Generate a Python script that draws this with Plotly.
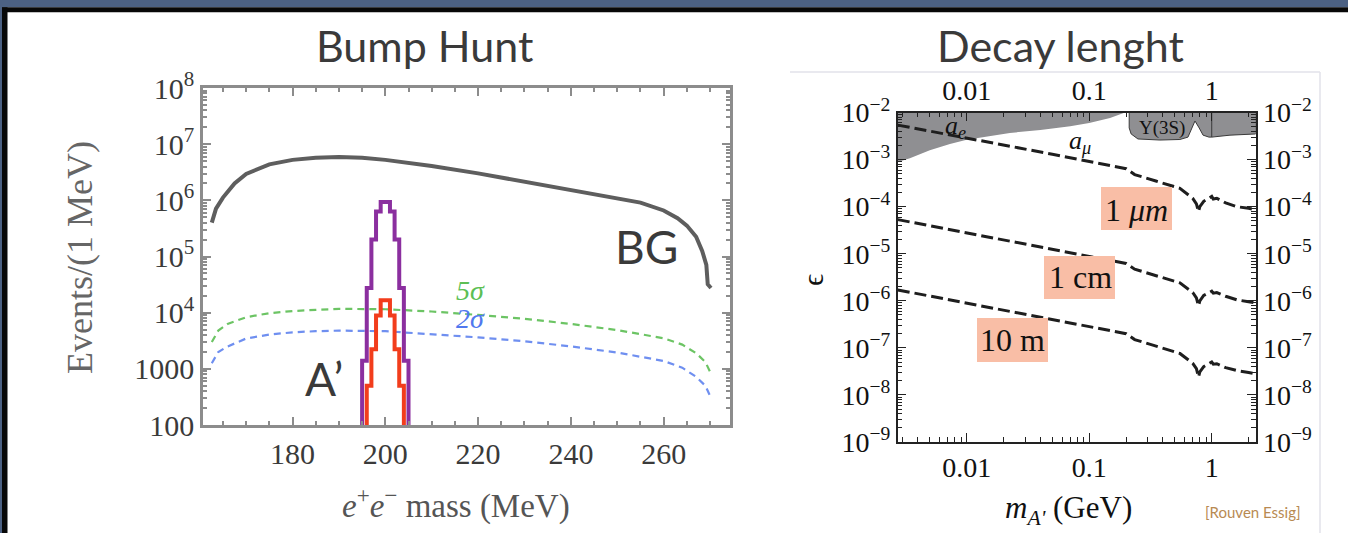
import plotly.graph_objects as go

W, H = 1348, 533
def px(x): return x / W
def py(y): return 1 - y / H

# ---------------- data: left chart (Bump Hunt) ----------------
bg_mass = [162.6, 163.5, 165, 167.5, 170, 175, 180, 185, 190, 195, 200, 210, 220, 230, 240,
           250, 255, 260, 263, 265, 267, 268.3, 269.2, 269.5, 270.2]
bg_events = [4.0e5, 7.1e5, 1.12e6, 2.0e6, 2.95e6, 4.37e6, 5.25e6, 5.75e6, 5.9e6, 5.75e6, 5.25e6,
             4.07e6, 3.02e6, 2.14e6, 1.55e6, 1.1e6, 9.1e5, 6.6e5, 4.8e5, 3.55e5, 2.24e5, 1.26e5,
             7.1e4, 3.2e4, 2.75e4]

sig_mass = [162.6, 164, 166, 170, 175, 180, 185, 190, 200, 210, 220, 230, 240, 250, 260, 264, 267, 269, 270]
five_sigma = [3000, 4800, 6300, 8300, 9800, 10700, 11200, 11700, 11500, 10500, 9100, 7800, 6300,
              4900, 3500, 2700, 1900, 1320, 890]
two_sigma = [1260, 2000, 2500, 3470, 4070, 4470, 4680, 4790, 4680, 4170, 3630, 3090, 2510,
             1950, 1380, 1050, 720, 500, 330]

purple_edges = [195, 196, 197, 198, 199, 200, 201, 202, 203, 204, 205]
purple_counts = [1400, 2.75e4, 2.0e5, 6.3e5, 9.3e5, 9.3e5, 6.3e5, 2.0e5, 2.75e4, 1400]
red_edges = [196, 197, 198, 199, 200, 201, 202, 203, 204]
red_counts = [500, 2240, 8900, 1.66e4, 1.66e4, 8900, 2240, 500]

left_xticks = [180, 200, 220, 240, 260]
left_yticks = [1e2, 1e3, 1e4, 1e5, 1e6, 1e7, 1e8]
left_ytext = ["100", "1000", "10<sup>4</sup>", "10<sup>5</sup>", "10<sup>6</sup>",
              "10<sup>7</sup>", "10<sup>8</sup>"]

# ---------------- data: right chart (Decay length) ----------------
m_line = [0.00274, 0.01, 0.05, 0.2, 0.235, 0.35, 0.55, 0.70, 0.75, 0.78, 0.80, 0.86, 0.95,
          1.0, 1.03, 1.1, 1.3, 1.6, 2.0, 2.3]
eps_1um = [5.4e-3, 2.9e-3, 1.3e-3, 6.4e-4, 4.8e-4, 3.5e-4, 2.45e-4, 1.5e-4, 1.15e-4, 7.8e-5,
           1.0e-4, 1.3e-4, 1.5e-4, 1.65e-4, 1.45e-4, 1.5e-4, 1.2e-4, 1.0e-4, 9.2e-5, 8.6e-5]
eps_1cm = [5.3e-5, 2.8e-5, 1.25e-5, 6.2e-6, 4.7e-6, 3.4e-6, 2.4e-6, 1.5e-6, 1.15e-6, 7.8e-7,
           1.0e-6, 1.3e-6, 1.5e-6, 1.6e-6, 1.45e-6, 1.5e-6, 1.25e-6, 1.05e-6, 9.5e-7, 9.0e-7]
eps_10m = [1.7e-6, 9.0e-7, 4.0e-7, 2.0e-7, 1.5e-7, 1.08e-7, 7.6e-8, 4.7e-8, 3.6e-8, 2.4e-8,
           3.1e-8, 4.0e-8, 4.6e-8, 5.0e-8, 4.5e-8, 4.6e-8, 3.8e-8, 3.3e-8, 3.0e-8, 2.8e-8]

amu_m = [0.00274, 0.00344, 0.005, 0.0073, 0.01, 0.0155, 0.0225, 0.04, 0.07, 0.1, 0.148, 0.196, 0.00274]
amu_eps = [8.9e-4, 1.07e-3, 1.58e-3, 2.14e-3, 2.63e-3, 3.16e-3, 3.67e-3, 4.27e-3, 5.1e-3, 6.0e-3,
           7.6e-3, 1e-2, 1e-2]

ups_m = [0.212, 0.212, 0.22, 0.25, 0.378, 0.55, 0.64, 0.69, 0.73, 0.79, 0.85, 0.95, 1.0, 1.41, 2.29, 2.29, 0.212]
ups_eps = [1e-2, 4.7e-3, 3.5e-3, 2.74e-3, 2.6e-3, 2.67e-3, 3.0e-3, 4.7e-3, 6.6e-3, 4.7e-3, 3.3e-3,
           3.0e-3, 3.0e-3, 3.3e-3, 3.5e-3, 1e-2, 1e-2]

right_xticks = [0.01, 0.1, 1]
right_xtext = ["0.01", "0.1", "1"]
right_yticks = [1e-9, 1e-8, 1e-7, 1e-6, 1e-5, 1e-4, 1e-3, 1e-2]
right_ytext = ["10<sup>−9</sup>", "10<sup>−8</sup>", "10<sup>−7</sup>", "10<sup>−6</sup>",
               "10<sup>−5</sup>", "10<sup>−4</sup>", "10<sup>−3</sup>", "10<sup>−2</sup>"]

SERIF = "Liberation Serif"
SANS = "Lato"

fig = go.Figure()

# left chart traces
fig.add_trace(go.Scatter(x=sig_mass, y=five_sigma, mode="lines", xaxis="x", yaxis="y",
                         line=dict(color="#6cc464", width=2.2, dash="7px,5px"), hoverinfo="skip"))
fig.add_trace(go.Scatter(x=sig_mass, y=two_sigma, mode="lines", xaxis="x", yaxis="y",
                         line=dict(color="#6f8ff0", width=2.2, dash="7px,5px"), hoverinfo="skip"))
fig.add_trace(go.Scatter(x=bg_mass, y=bg_events, mode="lines", xaxis="x", yaxis="y",
                         line=dict(color="#5e5e5e", width=4), hoverinfo="skip"))

def hist_outline(edges, counts, low=10):
    xs = [edges[0]] + list(edges[:-1]) + [edges[-1]]
    ys = [low] + list(counts) + [low]
    return xs, ys

hx, hy = hist_outline(purple_edges, purple_counts)
fig.add_trace(go.Scatter(x=hx, y=hy, mode="lines", line_shape="hv", xaxis="x", yaxis="y",
                         line=dict(color="#8b2f9f", width=4), hoverinfo="skip"))
hx, hy = hist_outline(red_edges, red_counts)
fig.add_trace(go.Scatter(x=hx, y=hy, mode="lines", line_shape="hv", xaxis="x", yaxis="y",
                         line=dict(color="#f23d1c", width=4), hoverinfo="skip"))

# right chart traces
fig.add_trace(go.Scatter(x=amu_m, y=amu_eps, mode="lines", fill="toself", xaxis="x2", yaxis="y2",
                         fillcolor="#8f8f92", line=dict(width=0, color="#8f8f92"), hoverinfo="skip"))
fig.add_trace(go.Scatter(x=ups_m, y=ups_eps, mode="lines", fill="toself", xaxis="x2", yaxis="y2",
                         fillcolor="#8f8f92", line=dict(width=1, color="#3a3a3a"), hoverinfo="skip"))
fig.add_trace(go.Scatter(x=[1.0, 1.0], y=[3.0e-3, 1e-2], mode="lines", xaxis="x2", yaxis="y2",
                         line=dict(width=1, color="#3a3a3a"), hoverinfo="skip"))
for ev in (eps_1um, eps_1cm, eps_10m):
    fig.add_trace(go.Scatter(x=m_line, y=ev, mode="lines", xaxis="x2", yaxis="y2",
                             line=dict(color="#1e1e1e", width=3, dash="12px,5px"), hoverinfo="skip"))
fig.add_trace(go.Scatter(x=[0.01], y=[1e-5], mode="markers", xaxis="x3", yaxis="y3",
                         marker=dict(opacity=0), hoverinfo="skip"))

left_axis_common = dict(showline=True, linecolor="#8c8c8c", linewidth=2.5, mirror="ticks",
                        ticks="inside", tickcolor="#8c8c8c", tickwidth=1.5, showgrid=False,
                        zeroline=False, automargin=False)
right_axis_common = dict(showline=True, linecolor="#222", linewidth=1.5,
                         ticks="inside", tickcolor="#222", tickwidth=1.2, showgrid=False,
                         zeroline=False, type="log", automargin=False)

fig.update_layout(
    width=W, height=H, margin=dict(l=0, r=0, t=0, b=0, autoexpand=False),
    paper_bgcolor="white", plot_bgcolor="rgba(0,0,0,0)", showlegend=False,
    xaxis=dict(domain=[px(203), px(730)], range=[160.7, 274.3], anchor="y",
               tickvals=left_xticks, ticklen=8,
               tickfont=dict(family=SERIF, size=30, color="#3a3a3a"),
               minor=dict(ticks="inside", ticklen=4, dtick=5, tick0=180, tickcolor="#8c8c8c"),
               **left_axis_common),
    yaxis=dict(domain=[py(425), py(88)], type="log", range=[2, 8], anchor="x",
               tickvals=left_yticks, ticktext=left_ytext, ticklen=8,
               tickfont=dict(family=SERIF, size=30, color="#3a3a3a"),
               minor=dict(ticks="inside", ticklen=4, dtick="D1", tickcolor="#8c8c8c"),
               **left_axis_common),
    xaxis2=dict(domain=[px(897.7), px(1255.7)], range=[-2.563, 0.359], anchor="y2",
                tickvals=right_xticks, ticktext=right_xtext, ticklen=9,
                tickfont=dict(family=SERIF, size=28, color="#111"),
                minor=dict(ticks="inside", ticklen=5, dtick="D1", tickcolor="#222"),
                **right_axis_common),
    yaxis2=dict(domain=[py(442), py(112.5)], range=[-9, -2], anchor="x2",
                tickvals=right_yticks, ticktext=right_ytext, ticklen=9,
                tickfont=dict(family=SERIF, size=28, color="#111"),
                minor=dict(ticks="inside", ticklen=5, dtick="D1", tickcolor="#222"),
                **right_axis_common),
    xaxis3=dict(overlaying="x2", side="top", anchor="y2", range=[-2.563, 0.359],
                tickvals=right_xticks, ticktext=right_xtext, ticklen=9,
                tickfont=dict(family=SERIF, size=28, color="#111"),
                minor=dict(ticks="inside", ticklen=5, dtick="D1", tickcolor="#222"),
                **right_axis_common),
    yaxis3=dict(overlaying="y2", side="right", anchor="x2", range=[-9, -2],
                tickvals=right_yticks, ticktext=right_ytext, ticklen=9,
                tickfont=dict(family=SERIF, size=28, color="#111"),
                minor=dict(ticks="inside", ticklen=5, dtick="D1", tickcolor="#222"),
                **right_axis_common),
)

shapes = [
    dict(type="rect", xref="paper", yref="paper", x0=0, x1=1, y0=py(7.3), y1=1,
         fillcolor="#4c6183", line_width=0, layer="below"),
    dict(type="rect", xref="paper", yref="paper", x0=0, x1=px(2), y0=0, y1=1,
         fillcolor="#4c6183", line_width=0, layer="below"),
    dict(type="rect", xref="paper", yref="paper", x0=px(2), x1=1, y0=py(12.3), y1=py(7.3),
         fillcolor="#080808", line_width=0, layer="below"),
    dict(type="rect", xref="paper", yref="paper", x0=px(2), x1=px(7.5), y0=0, y1=py(7.3),
         fillcolor="#080808", line_width=0, layer="below"),
    dict(type="line", xref="paper", yref="paper", x0=px(790), x1=px(1320), y0=py(72), y1=py(72),
         line=dict(color="#e2e2ea", width=1.5), layer="below"),
    dict(type="line", xref="paper", yref="paper", x0=px(1320), x1=px(1320), y0=py(72), y1=0,
         line=dict(color="#e2e2ea", width=1.5), layer="below"),
]
for (x0, x1, y0, y1) in [(1101, 1172, 187, 230), (1044, 1115, 256, 299), (977, 1048, 318, 362)]:
    shapes.append(dict(type="rect", xref="paper", yref="paper", x0=px(x0), x1=px(x1),
                       y0=py(y1), y1=py(y0), fillcolor="#f9bea6", line_width=0, layer="above"))
fig.update_layout(shapes=shapes)

def ann(text, x, y, size, family, color="#000", angle=0, xanchor="center"):
    fig.add_annotation(text=text, x=px(x), y=py(y), xref="paper", yref="paper",
                       showarrow=False, textangle=angle, xanchor=xanchor, yanchor="middle",
                       font=dict(size=size, family=family, color=color))

ann("Bump Hunt", 424, 46, 43, SANS, "#3a3a3a")
ann("Decay lenght", 1060, 46, 43, SANS, "#3a3a3a")
ann("BG", 646, 246, 46, SANS, "#3a3a3a")
ann("A’", 324, 378, 46, SANS, "#3a3a3a")
ann("<i>5σ</i>", 470, 290, 28, SERIF, "#5cbf55")
ann("<i>2σ</i>", 470, 318, 28, SERIF, "#5078ee")
ann("Events/(1 MeV)", 80, 258, 36, SERIF, "#666", angle=-90)
ann("<i>e</i><sup>+</sup><i>e</i><sup>−</sup> mass (MeV)", 456, 503, 33, SERIF, "#555")

ann("ϵ", 812, 280, 30, SERIF, "#111", angle=-90)
ann("<i>m</i><sub><i>A'</i></sub> (GeV)", 1068, 510, 31, SERIF, "#111")
ann("[Rouven Essig]", 1253, 512, 15, SANS, "#b88a52")
ann("<i>a</i><sub><i>e</i></sub>", 956, 127, 26, SERIF, "#111")
ann("<i>a</i><sub><i>μ</i></sub>", 1080, 142, 26, SERIF, "#111")
ann("Υ(3S)", 1162, 128, 19, SERIF, "#111")
ann("1 <i>μm</i>", 1136, 210, 32, SERIF, "#111")
ann("1 cm", 1080, 277, 32, SERIF, "#111")
ann("10 m", 1012, 340, 32, SERIF, "#111")

fig.write_html("out.html", config={"displayModeBar": False},
               post_script="document.body.style.margin='0px';document.body.style.overflow='hidden';")
